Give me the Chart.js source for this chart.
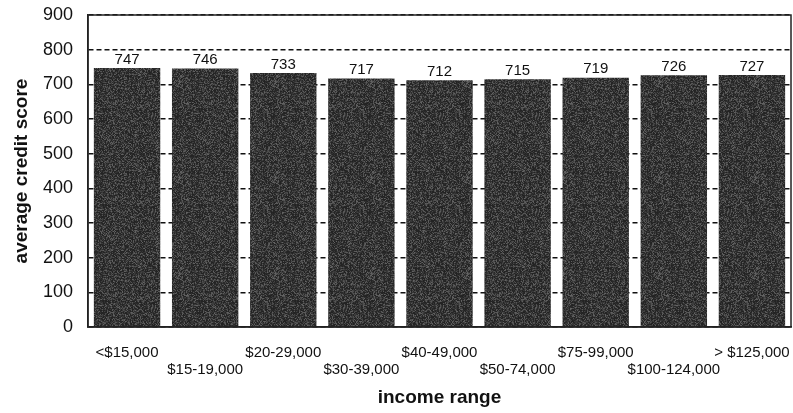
<!DOCTYPE html>
<html>
<head>
<meta charset="utf-8">
<script src="https://cdn.jsdelivr.net/npm/chart.js@4/dist/chart.umd.min.js"></script>
<style>
  html, body { margin: 0; padding: 0; background: #fff; }
  #wrap { width: 793px; height: 413px; }
</style>
</head>
<body>
<div id="wrap"><canvas id="credit-chart"></canvas></div>
<script>
// income brackets and average credit scores
const incomeRanges = ['<$15,000', '$15-19,000', '$20-29,000', '$30-39,000', '$40-49,000',
                      '$50-74,000', '$75-99,000', '$100-124,000', '> $125,000'];
const avgScores = [747, 746, 733, 717, 712, 715, 719, 726, 727];
const yTicks = [0, 100, 200, 300, 400, 500, 600, 700, 800, 900];

const FONT = "'Liberation Sans', Arial, sans-serif";

// speckled dark fill for the bars (hash noise, same every run)
function grainPattern() {
  const w = 96, h = 96;
  const c = document.createElement('canvas');
  c.width = w; c.height = h;
  const g = c.getContext('2d');
  const img = g.createImageData(w, h);
  for (let y = 0; y < h; y++) {
    for (let x = 0; x < w; x++) {
      let n = Math.sin(x * 12.9898 + y * 78.233) * 43758.5453;
      n = n - Math.floor(n);
      let v = 34 + n * n * 66;
      const k = (y * w + x) * 4;
      img.data[k] = img.data[k + 1] = img.data[k + 2] = v;
      img.data[k + 3] = 255;
    }
  }
  g.putImageData(img, 0, 0);
  return g.createPattern(c, 'repeat');
}

// value labels above bars + solid frame around plot
const valueLabels = {
  id: 'valueLabels',
  afterDatasetsDraw(chart) {
    const ctx = chart.ctx;
    const meta = chart.getDatasetMeta(0);
    ctx.save();
    ctx.font = '15px ' + FONT;
    ctx.fillStyle = '#111';
    ctx.textAlign = 'center';
    ctx.textBaseline = 'bottom';
    meta.data.forEach((bar, i) => {
      ctx.fillText(avgScores[i], bar.x, bar.y - 1);
    });
    const a = chart.chartArea;
    ctx.strokeStyle = '#222';
    ctx.lineWidth = 1.5;
    ctx.strokeRect(a.left, a.top, a.right - a.left, a.bottom - a.top);
    ctx.restore();
  }
};

const ctx = document.getElementById('credit-chart');
new Chart(ctx, {
  type: 'bar',
  data: {
    labels: incomeRanges,
    datasets: [{
      label: 'average credit score',
      data: avgScores,
      backgroundColor: grainPattern(),
      borderWidth: 0,
      barPercentage: 0.85,
      categoryPercentage: 1.0
    }]
  },
  options: {
    responsive: true,
    maintainAspectRatio: false,
    animation: false,
    layout: { padding: { top: 15, right: 2, left: 0, bottom: 0 } },
    plugins: {
      legend: { display: false },
      tooltip: { enabled: false }
    },
    scales: {
      x: {
        grid: { display: false },
        border: { display: true, color: '#222', width: 1.5 },
        ticks: {
          color: '#111',
          font: { family: FONT, size: 15, lineHeight: 1.15 },
          padding: 9,
          maxRotation: 0,
          autoSkip: false,
          // stagger every other label onto a second line
          callback: function (val, i) {
            return i % 2 ? ['', incomeRanges[i]] : incomeRanges[i];
          }
        },
        title: {
          display: true,
          text: 'income range',
          color: '#111',
          font: { family: FONT, size: 19, weight: 'bold' },
          padding: { top: 6, bottom: 4 }
        },
        afterFit: function (scale) {
          scale.height = 86;
          scale.paddingLeft = 0;
          scale.paddingRight = 0;
        }
      },
      y: {
        min: 0,
        max: 900,
        afterBuildTicks: function (scale) {
          scale.ticks = yTicks.map(v => ({ value: v }));
        },
        grid: {
          color: '#111',
          lineWidth: 1.5,
          drawTicks: false
        },
        border: { display: true, color: '#222', width: 1.5, dash: [5, 3] },
        ticks: {
          color: '#111',
          font: { family: FONT, size: 18 },
          padding: 15
        },
        title: {
          display: true,
          text: 'average credit score',
          color: '#111',
          font: { family: FONT, size: 19, weight: 'bold' },
          padding: { top: 10, bottom: 4 }
        },
        afterFit: function (scale) {
          scale.width = 88;
          scale.paddingTop = 0;
          scale.paddingBottom = 0;
        }
      }
    }
  },
  plugins: [valueLabels]
});
</script>
</body>
</html>
